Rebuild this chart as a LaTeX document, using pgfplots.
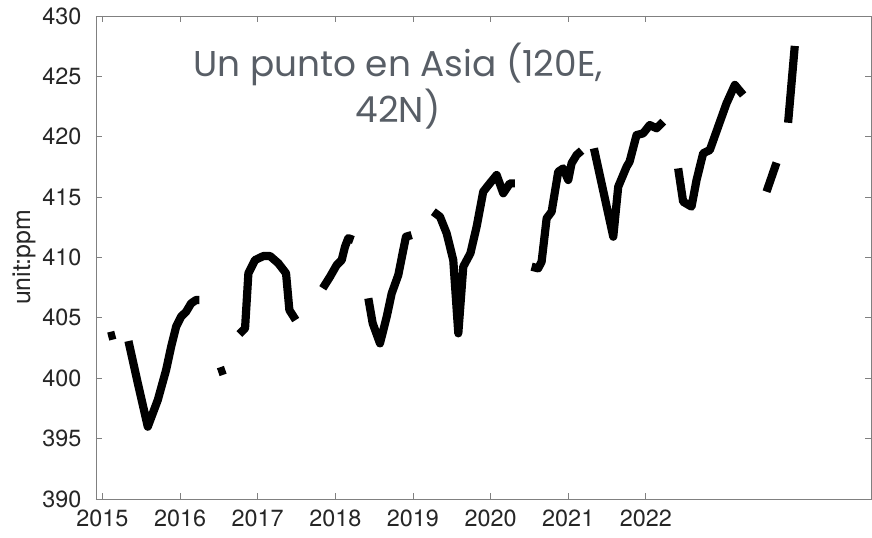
\documentclass[border=0pt]{standalone}
\usepackage{pgfplots}
\pgfplotsset{compat=1.18}
\usepackage{fontspec}
\setmainfont{TeX Gyre Heros}
\newfontfamily\titlefont{Poppins}
\definecolor{axgray}{RGB}{128,128,128}
\definecolor{tickcol}{RGB}{38,38,38}
\definecolor{titlecol}{RGB}{88,94,102}
\pgfplotsset{co2/.style={black, solid, line width=8.2bp, line join=round, line cap=butt, mark=none}}
\begin{document}
\begin{tikzpicture}
\begin{axis}[
  scale only axis,
  width=775bp, height=483bp,
  xmin=2014.917, xmax=2024.9,
  ymin=390, ymax=430,
  xtick={2015,2016,2017,2018,2019,2020,2021,2022},
  ytick={390,395,...,430},
  xticklabel style={/pgf/number format/1000 sep={}, yshift=-7bp},
  yticklabel style={xshift=-11bp},
  /pgf/number format/assume math mode=true,
  tick label style={font=\fontsize{23.5}{28}\selectfont, text=tickcol},
  axis line style={axgray, line width=0.8bp},
  tick style={axgray, line width=0.8bp},
  major tick length=6bp,
  tick align=inside,
  xtick pos=both, ytick pos=both,
  ylabel={unit:ppm},
  ylabel style={font=\fontsize{25}{30}\selectfont, text=tickcol, yshift=0bp},
  clip=false,
]
% isolated short pieces
\addplot[co2] coordinates {(2015.075,403.45) (2015.165,403.6)};
\addplot[co2] coordinates {(2016.492,400.5) (2016.582,400.7)};
% 2015 V
\addplot[co2] coordinates {(2015.335,403.08) (2015.456,399.58) (2015.584,395.99) (2015.713,398.2) (2015.82,400.68) (2015.885,402.61) (2015.949,404.27) (2016.013,405.1) (2016.078,405.51) (2016.142,406.2) (2016.206,406.48) (2016.25,406.48)};
% 2017 hump
\addplot[co2] coordinates {(2016.764,403.66) (2016.837,404.13) (2016.88,408.69) (2016.966,409.79) (2017.073,410.12) (2017.159,410.12) (2017.266,409.52) (2017.365,408.69) (2017.408,405.65) (2017.49,404.82)};
% 2018 rise
\addplot[co2] coordinates {(2017.838,407.45) (2017.932,408.41) (2018.018,409.38) (2018.082,409.79) (2018.125,410.9) (2018.167,411.6) (2018.232,411.45)};
% 2018 V
\addplot[co2] coordinates {(2018.425,406.62) (2018.481,404.55) (2018.575,402.89) (2018.662,405.1) (2018.726,407.03) (2018.811,408.55) (2018.875,410.62) (2018.91,411.72) (2018.983,411.86)};
% 2019 deep V
\addplot[co2] coordinates {(2019.262,413.79) (2019.348,413.38) (2019.434,412.0) (2019.519,409.79) (2019.584,403.72) (2019.648,409.24) (2019.74,410.35) (2019.82,412.55) (2019.905,415.45) (2019.99,416.14) (2020.078,416.83) (2020.163,415.32) (2020.249,416.14) (2020.313,416.14)};
% 2020-2021 rise
\addplot[co2] coordinates {(2020.528,409.24) (2020.613,409.1) (2020.657,409.65) (2020.722,413.25) (2020.786,413.79) (2020.871,417.1) (2020.935,417.38) (2021.0,416.42) (2021.043,417.8) (2021.108,418.49) (2021.172,418.85)};
% 2021 V
\addplot[co2] coordinates {(2021.331,419.04) (2021.58,411.72) (2021.644,415.86) (2021.752,417.52) (2021.79,417.93) (2021.88,420.14) (2021.965,420.28) (2022.05,420.97) (2022.138,420.7) (2022.223,421.25)};
% 2022-2023
\addplot[co2] coordinates {(2022.416,417.38) (2022.48,414.62) (2022.588,414.21) (2022.653,416.42) (2022.738,418.63) (2022.824,418.9) (2022.931,420.83) (2023.039,422.77) (2023.146,424.29) (2023.253,423.46)};
% late pieces
\addplot[co2] coordinates {(2023.554,415.45) (2023.683,417.85)};
\addplot[co2] coordinates {(2023.832,421.16) (2023.918,427.52)};
\node[anchor=base, text=titlecol, font=\titlefont\fontsize{36}{42}\selectfont] at (axis cs:2018.807,425.03) {Un punto en Asia (120E,};
\node[anchor=base, text=titlecol, font=\titlefont\fontsize{36}{42}\selectfont] at (axis cs:2018.807,421.22) {42N)};
\end{axis}
\pgfresetboundingbox
\path[use as bounding box] ([shift={(-96bp,-39bp)}]current axis.south west) rectangle ([shift={(1bp,16bp)}]current axis.north east);
\end{tikzpicture}
\end{document}
